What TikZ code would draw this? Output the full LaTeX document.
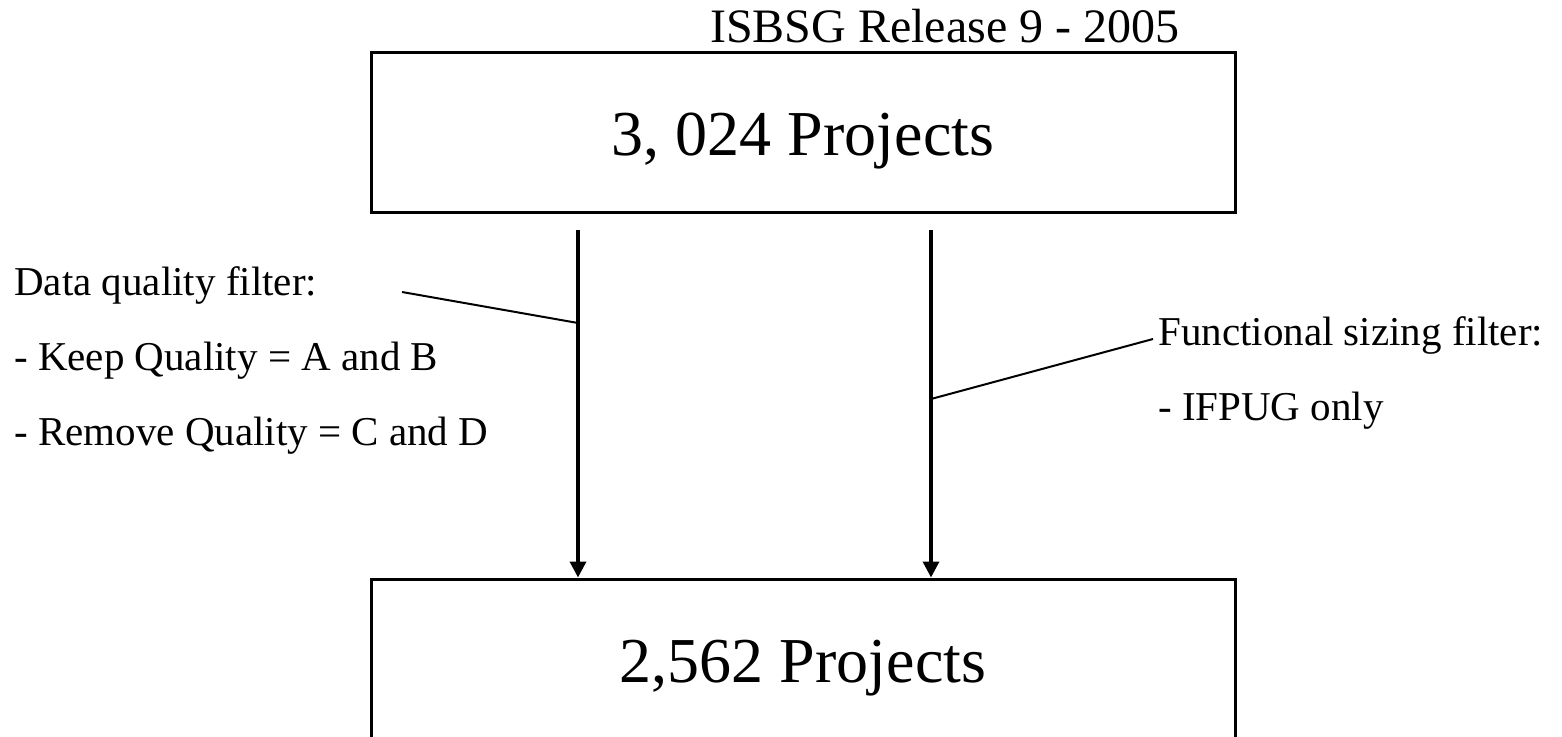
\documentclass[tikz,border=0pt]{standalone}
\usepackage{fontspec}
\setmainfont{Liberation Serif}
\usetikzlibrary{arrows.meta}
\begin{document}
\begin{tikzpicture}[x=1pt,y=-1pt,
  box/.style={draw=black,line width=3pt,minimum width=864pt,inner sep=0pt,text depth=0pt},
  flow/.style={line width=3.5pt,-{Triangle[width=16pt,length=16pt]}},
  leader/.style={line width=2pt},
  lbl/.style={anchor=base west,inner sep=0pt,font=\fontsize{41}{49}\selectfont},
  big/.style={font=\fontsize{64}{76}\selectfont}]
\useasboundingbox (0,0) rectangle (1562,736);
\clip (0,0) rectangle (1562,736);
\node[anchor=base west,inner sep=0pt,font=\fontsize{48}{57}\selectfont] (title) at (710,42) {ISBSG Release 9 - 2005};
\node[box,minimum height=160pt,big,text height=46pt] (top) at (803,132) {3, 024 Projects};
\node[box,minimum height=162pt,big,text height=45pt] (bot) at (803,660) {2,562 Projects};
\coordinate (a1) at (578,230);
\coordinate (a2) at (931,230);
\draw[flow] (a1) -- (a1 |- bot.north);
\draw[flow] (a2) -- (a2 |- bot.north);
\node[lbl] (dq) at (14,295) {Data quality filter:};
\node[lbl] (keep) at (14,370) {- Keep Quality = A and B};
\node[lbl] (rem) at (14,445) {- Remove Quality = C and D};
\node[lbl] (fs) at (1158,345) {Functional sizing filter:};
\node[lbl] (ifp) at (1158,420) {- IFPUG only};
\coordinate (l1a) at (402,292);
\coordinate (l1b) at (578,323);
\coordinate (l2a) at (931,399);
\coordinate (l2b) at (1153,339);
\draw[leader] (l1a) -- (l1b);
\draw[leader] (l2a) -- (l2b);
\end{tikzpicture}
\end{document}
